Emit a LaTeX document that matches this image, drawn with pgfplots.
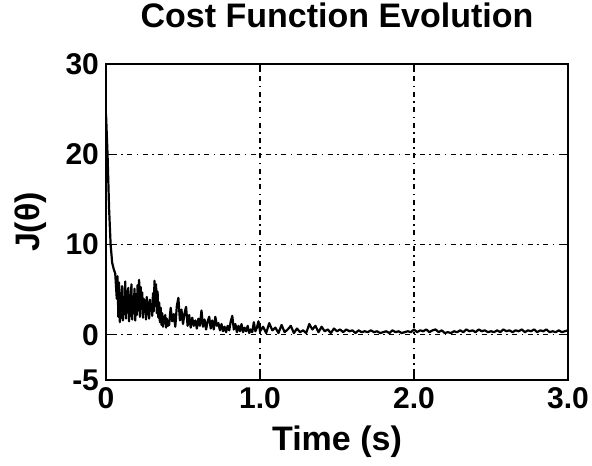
\documentclass[border=0pt]{standalone}
\usepackage{fontspec}
\setmainfont{Liberation Sans}
\usepackage{pgfplots}
\pgfplotsset{compat=1.18}
\begin{document}
\begin{tikzpicture}
\begin{axis}[
  scale only axis,
  width=231pt, height=158pt,
  xmin=0, xmax=3, ymin=-5, ymax=30,
  xtick={0,1,2,3}, xticklabels={0,1.0,2.0,3.0},
  ytick={-5,0,10,20,30},
  /pgf/number format/assume math mode=true,
  font=\fontsize{15}{18}\selectfont\bfseries,
  tick label style={font=\fontsize{15}{18}\selectfont\bfseries},
  title={Cost Function Evolution},
  title style={font=\fontsize{17}{20}\selectfont\bfseries, at={(axis description cs:0.5,1.076)}, anchor=base},
  xlabel={Time (s)},
  ylabel={J(θ)},
  xlabel style={font=\fontsize{17}{20}\selectfont\bfseries, at={(axis description cs:0.5,-0.222)}, anchor=base},
  ylabel style={font=\fontsize{17}{20}\selectfont\bfseries, at={(axis description cs:-0.163,0.5)}, anchor=center},
  grid=major,
  major grid style={black, line width=0.6pt, dash pattern=on 0.8pt off 2.2pt on 2.5pt off 2.2pt},
  tick align=inside,
  major tick length=3pt,
  tick style={black, line width=0.6pt},
  axis line style={black, line width=0.9pt},
  every axis plot/.append style={line join=round},
]
\addplot[black, line width=1.1pt, mark=none] coordinates {
(0.00,24.5)(0.01,20.0)(0.02,14.0)(0.03,10.0)(0.04,8.0)(0.05,7.3)(0.06,6.8)
(0.070,4.0)(0.075,6.5)(0.080,2.0)(0.085,5.8)(0.090,1.4)(0.095,4.6)(0.100,1.9)(0.105,5.4)(0.110,1.6)(0.115,4.2)
(0.120,2.3)(0.125,5.9)(0.130,1.8)(0.135,4.8)(0.140,2.5)(0.145,5.2)(0.150,1.5)(0.155,4.4)(0.160,2.1)(0.165,5.6)
(0.170,1.7)(0.175,3.9)(0.180,2.4)(0.185,5.1)(0.190,1.6)(0.195,4.5)(0.200,2.2)(0.205,5.5)(0.210,2.7)(0.215,6.1)
(0.220,2.0)(0.225,5.3)(0.230,2.9)(0.235,4.7)(0.240,1.9)(0.245,4.0)(0.250,2.6)(0.255,3.8)(0.260,1.7)(0.265,4.2)
(0.270,2.3)(0.275,3.6)(0.280,1.8)(0.285,3.9)(0.290,2.8)(0.295,3.3)(0.300,2.1)(0.305,4.6)(0.310,2.6)(0.315,6.0)
(0.320,3.2)(0.325,5.6)(0.330,2.4)(0.335,4.8)(0.340,1.9)(0.345,3.6)(0.350,1.4)(0.355,3.0)(0.360,1.1)(0.365,2.4)
(0.370,0.9)(0.375,2.0)(0.380,1.3)(0.385,2.2)(0.390,0.8)(0.395,1.8)(0.400,1.0)
(0.41,1.1)(0.42,3.0)(0.43,1.5)(0.44,2.3)(0.45,0.9)(0.46,3.2)(0.47,4.1)(0.48,1.6)(0.49,2.8)
(0.50,1.2)(0.51,2.4)(0.52,3.1)(0.53,1.0)(0.54,2.2)(0.55,0.8)(0.56,1.9)(0.57,1.0)(0.58,1.6)(0.59,0.7)
(0.60,1.8)(0.61,1.0)(0.62,2.7)(0.63,0.9)(0.64,1.7)(0.65,0.6)(0.66,1.5)(0.67,2.0)(0.68,0.7)(0.69,1.6)
(0.70,0.6)(0.71,2.0)(0.72,1.0)(0.73,1.3)(0.74,0.5)(0.75,1.2)(0.76,0.4)(0.77,0.9)(0.78,0.3)(0.79,1.0)
(0.80,0.5)(0.81,1.5)(0.82,2.1)(0.83,0.6)(0.84,1.2)(0.85,0.3)(0.86,1.0)(0.87,0.4)(0.88,1.2)(0.89,0.3)
(0.90,0.8)(0.91,0.4)(0.92,1.0)(0.93,0.2)(0.94,0.6)(0.95,0.3)(0.96,1.4)(0.97,0.4)(0.98,0.8)(0.99,1.5)
(1.00,0.4)(1.02,0.9)(1.04,0.2)(1.06,1.3)(1.08,0.5)(1.10,0.8)(1.12,0.2)(1.14,1.1)(1.16,0.3)(1.18,0.6)
(1.20,1.0)(1.22,0.2)(1.24,0.7)(1.26,0.3)(1.28,0.5)(1.30,0.2)(1.32,1.2)(1.34,0.6)(1.36,1.0)(1.38,0.3)
(1.40,0.9)(1.42,0.4)(1.44,0.6)(1.46,0.2)(1.48,0.7)(1.50,0.4)(1.52,0.6)(1.54,0.3)(1.56,0.6)(1.58,0.4)
(1.60,0.5)(1.62,0.2)(1.64,0.5)(1.66,0.3)(1.68,0.4)(1.70,0.3)(1.72,0.5)(1.74,0.3)(1.76,0.4)(1.78,0.2)
(1.80,0.3)(1.82,0.4)(1.84,0.2)(1.86,0.5)(1.88,0.3)(1.90,0.4)(1.92,0.2)(1.94,0.3)(1.96,0.4)(1.98,0.3)
(2.00,0.6)(2.02,0.3)(2.04,0.5)(2.06,0.4)(2.08,0.6)(2.10,0.3)(2.12,0.5)(2.14,0.6)(2.16,0.3)(2.18,0.5)
(2.20,0.2)(2.22,0.3)(2.24,0.2)(2.26,0.4)(2.28,0.3)(2.30,0.5)(2.32,0.3)(2.34,0.6)(2.36,0.4)(2.38,0.5)
(2.40,0.3)(2.42,0.6)(2.44,0.4)(2.46,0.5)(2.48,0.3)(2.50,0.4)(2.52,0.3)(2.54,0.5)(2.56,0.3)(2.58,0.6)
(2.60,0.4)(2.62,0.5)(2.64,0.3)(2.66,0.5)(2.68,0.4)(2.70,0.6)(2.72,0.3)(2.74,0.5)(2.76,0.4)(2.78,0.6)
(2.80,0.3)(2.82,0.5)(2.84,0.4)(2.86,0.6)(2.88,0.3)(2.90,0.4)(2.92,0.3)(2.94,0.5)(2.96,0.3)(2.98,0.4)
(3.00,0.5)
};
\end{axis}
\pgfresetboundingbox
\path ([xshift=-53pt,yshift=-42.5pt]current axis.south west) rectangle ([xshift=12pt,yshift=32pt]current axis.north east);
\end{tikzpicture}
\end{document}
